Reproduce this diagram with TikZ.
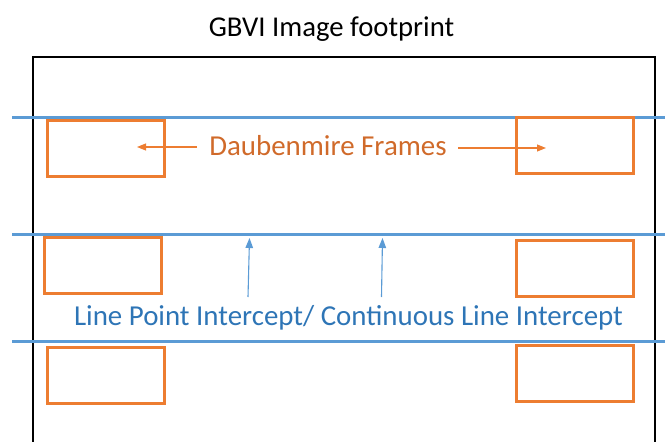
\documentclass[tikz,border=0pt]{standalone}
\usepackage{fontspec}
\setmainfont{Carlito}
\usetikzlibrary{arrows.meta}
\definecolor{frameor}{HTML}{ED7D31}
\definecolor{textor}{HTML}{D06A2A}
\definecolor{lineblue}{HTML}{5B9BD5}
\definecolor{textblue}{HTML}{2E75B6}
\begin{document}
\begin{tikzpicture}[x=1pt,y=-1pt,
  frame/.style={draw=frameor, line width=3pt, minimum width=117pt, minimum height=56pt, inner sep=0pt},
  transect/.style={draw=lineblue, line width=3pt},
  footprint/.style={draw=black, line width=2.8pt},
  lbl/.style={inner sep=0pt, anchor=base, font=\fontsize{28.9}{30}\selectfont},
  orarrow/.style={draw=frameor, line width=1.1pt, -{Triangle[length=9pt,width=7pt]}},
  blarrow/.style={draw=lineblue, line width=1.1pt, -{Triangle[length=10pt,width=7.5pt]}}]
\clip (0,0) rectangle (665,442);
\useasboundingbox (0,0) rectangle (665,442);
% title
\node[lbl, text=black, font=\fontsize{28.7}{30}\selectfont] (title) at (331.5,36) {GBVI Image footprint};
% footprint box
\coordinate (fbl) at (33,450);
\coordinate (ftl) at (33,57);
\coordinate (ftr) at (655,57);
\coordinate (fbr) at (655,450);
\draw[footprint] (fbl) -- (ftl) -- (ftr) -- (fbr);
% transects
\coordinate (t1a) at (12,117); \coordinate (t1b) at (670,117);
\coordinate (t2a) at (12,234); \coordinate (t2b) at (670,234);
\coordinate (t3a) at (12,341); \coordinate (t3b) at (670,341);
\draw[transect] (t1a) -- (t1b);
\draw[transect] (t2a) -- (t2b);
\draw[transect] (t3a) -- (t3b);
% frames
\node[frame] (tl) at (105.5,148) {};
\node[frame] (tr) at (575,145) {};
\node[frame] (ml) at (103,265.5) {};
\node[frame] (mr) at (575,268) {};
\node[frame] (bl) at (105.5,375.5) {};
\node[frame] (br) at (575,373) {};
% labels
\node[lbl, text=textor] (daub) at (328,155.5) {Daubenmire Frames};
\node[lbl, text=textblue] (lpi) at (348.5,325.5) {Line Point Intercept/ Continuous Line Intercept};
% arrows
\coordinate (dl0) at (197,147); \coordinate (dl1) at (137,147);
\coordinate (dr0) at (458,148); \coordinate (dr1) at (546,148);
\draw[orarrow] (dl0) -- (dl1);
\draw[orarrow] (dr0) -- (dr1);
\coordinate (b10) at (248,297); \coordinate (b11) at (249.5,238);
\coordinate (b20) at (381.5,297); \coordinate (b21) at (382.5,238);
\draw[blarrow] (b10) -- (b11);
\draw[blarrow] (b20) -- (b21);
\end{tikzpicture}
\end{document}
